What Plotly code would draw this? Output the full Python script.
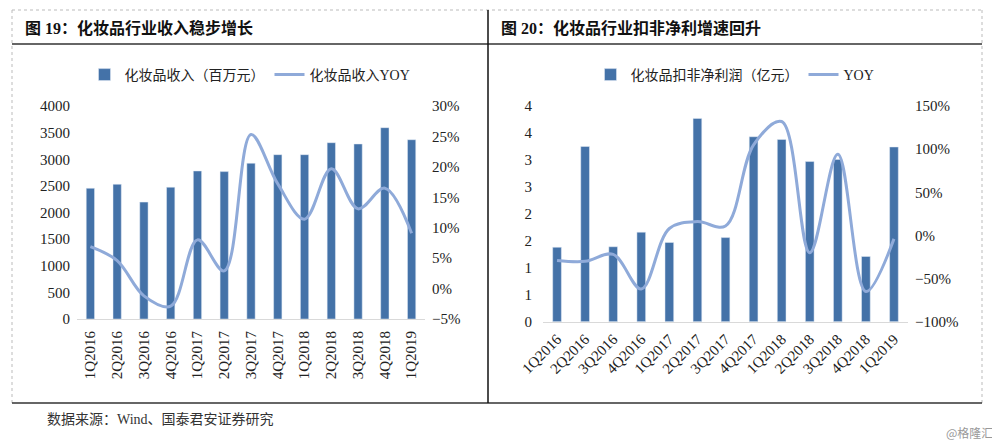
import plotly.graph_objects as go

quarters = ["1Q2016", "2Q2016", "3Q2016", "4Q2016", "1Q2017", "2Q2017", "3Q2017",
            "4Q2017", "1Q2018", "2Q2018", "3Q2018", "4Q2018", "1Q2019"]

revenue = [2455, 2530, 2195, 2475, 2780, 2768, 2925, 3086, 3086, 3311, 3287, 3593, 3367]
revenue_yoy = [0.069, 0.046, -0.012, -0.029, 0.080, 0.029, 0.253, 0.172, 0.114, 0.197, 0.131, 0.165, 0.091]

profit = [1.38, 3.25, 1.39, 1.66, 1.47, 3.77, 1.56, 3.43, 3.38, 2.97, 3.01, 1.21, 3.24]
profit_yoy = [-0.29, -0.30, -0.22, -0.62, 0.08, 0.16, 0.11, 1.05, 1.32, -0.20, 0.94, -0.65, -0.04]

profit_tickvals = [0, 0.5, 1, 1.5, 2, 2.5, 3, 3.5, 4]
profit_ticktext = ["0", "1", "1", "2", "2", "3", "3", "4", "4"]

BAR = "#4472A8"
LINE = "#8FAAD9"
FONT = "Liberation Serif, Times New Roman, Noto Sans CJK SC"
OFF = 8          # page body margin
W, H = 992, 435


def px(x):
    return (x - OFF) / W


def py(y):
    return 1 - (y - OFF) / H


fig = go.Figure()
fig.add_trace(go.Bar(x=quarters, y=revenue, name="化妆品收入（百万元）", marker_color=BAR,
                     xaxis="x", yaxis="y", legend="legend"))
fig.add_trace(go.Scatter(x=quarters, y=revenue_yoy, name="化妆品收入YOY", mode="lines",
                         line=dict(color=LINE, width=3, shape="spline"),
                         xaxis="x", yaxis="y2", legend="legend"))
fig.add_trace(go.Bar(x=quarters, y=profit, name="化妆品扣非净利润（亿元）", marker_color=BAR,
                     xaxis="x2", yaxis="y3", legend="legend2"))
fig.add_trace(go.Scatter(x=quarters, y=profit_yoy, name="YOY", mode="lines",
                         line=dict(color=LINE, width=3, shape="spline"),
                         xaxis="x2", yaxis="y4", legend="legend2"))

tickfont = dict(family=FONT, size=15, color="#222")

fig.update_layout(
    width=W, height=H,
    margin=dict(l=0, r=0, t=0, b=0, pad=0, autoexpand=False),
    paper_bgcolor="white", plot_bgcolor="white",
    font=dict(family=FONT, size=14, color="#222"),
    bargap=0.69,
    xaxis=dict(domain=[px(77), px(425)], anchor="y", tickangle=-90, tickfont=tickfont,
               showline=True, linecolor="#D9D9D9", linewidth=1, ticks="", showgrid=False,
               automargin=False, ticklabelstandoff=5),
    yaxis=dict(domain=[py(319), py(106)], anchor="x", range=[0, 4000], dtick=500,
               tickfont=tickfont, showgrid=False, zeroline=False, ticklabelstandoff=6,
               automargin=False),
    yaxis2=dict(overlaying="y", anchor="x", side="right", range=[-0.05, 0.30], dtick=0.05,
                tickformat=".0%", tickfont=tickfont, showgrid=False, zeroline=False,
                ticklabelstandoff=6, automargin=False),
    xaxis2=dict(domain=[px(543), px(908)], anchor="y3", tickangle=-45, tickfont=tickfont,
                showline=True, linecolor="#D9D9D9", linewidth=1, ticks="", showgrid=False,
                automargin=False, ticklabelstandoff=2),
    yaxis3=dict(domain=[py(321.7), py(106)], anchor="x2", range=[0, 4],
                tickvals=profit_tickvals, ticktext=profit_ticktext,
                tickfont=tickfont, showgrid=False, zeroline=False, ticklabelstandoff=10,
                automargin=False),
    yaxis4=dict(overlaying="y3", anchor="x2", side="right", range=[-1, 1.5], dtick=0.5,
                tickformat=".0%", tickfont=tickfont, showgrid=False, zeroline=False,
                ticklabelstandoff=6, automargin=False),
    legend=dict(orientation="h", x=px(250), y=py(75), xanchor="center", yanchor="middle",
                font=dict(family=FONT, size=14, color="#222"), bgcolor="rgba(0,0,0,0)"),
    legend2=dict(orientation="h", x=px(735), y=py(75), xanchor="center", yanchor="middle",
                 font=dict(family=FONT, size=14, color="#222"), bgcolor="rgba(0,0,0,0)"),
)

shapes = []
dash = dict(color="#BBBBBB", width=1, dash="dot")
shapes.append(dict(type="line", xref="paper", yref="paper", x0=px(12), x1=px(982), y0=py(10), y1=py(10), line=dash))
shapes.append(dict(type="line", xref="paper", yref="paper", x0=px(12), x1=px(12), y0=py(10), y1=py(403), line=dash))
shapes.append(dict(type="line", xref="paper", yref="paper", x0=px(982), x1=px(982), y0=py(10), y1=py(403), line=dash))
solid = dict(color="#333333", width=1.5)
shapes.append(dict(type="line", xref="paper", yref="paper", x0=px(12), x1=px(982), y0=py(44), y1=py(44), line=solid))
shapes.append(dict(type="line", xref="paper", yref="paper", x0=px(12), x1=px(982), y0=py(403), y1=py(403), line=solid))
shapes.append(dict(type="line", xref="paper", yref="paper", x0=px(488), x1=px(488), y0=py(10), y1=py(403), line=dict(color="#111111", width=1.5)))
fig.update_layout(shapes=shapes)

title_font = dict(family=FONT, size=16, color="#111")
fig.add_annotation(text="<b>图 19：化妆品行业收入稳步增长</b>", xref="paper", yref="paper",
                   x=px(23), y=py(28), xanchor="left", yanchor="middle", showarrow=False, font=title_font)
fig.add_annotation(text="<b>图 20：化妆品行业扣非净利增速回升</b>", xref="paper", yref="paper",
                   x=px(499), y=py(28), xanchor="left", yanchor="middle", showarrow=False, font=title_font)
fig.add_annotation(text="数据来源：Wind、国泰君安证券研究", xref="paper", yref="paper",
                   x=px(45), y=py(419), xanchor="left", yanchor="middle", showarrow=False,
                   font=dict(family=FONT, size=14, color="#333"))
fig.add_annotation(text="@格隆汇", xref="paper", yref="paper",
                   x=px(995), y=py(432), xanchor="right", yanchor="middle", showarrow=False,
                   font=dict(family="Noto Sans CJK SC", size=12, color="#999"))

fig.write_html("out.html")
